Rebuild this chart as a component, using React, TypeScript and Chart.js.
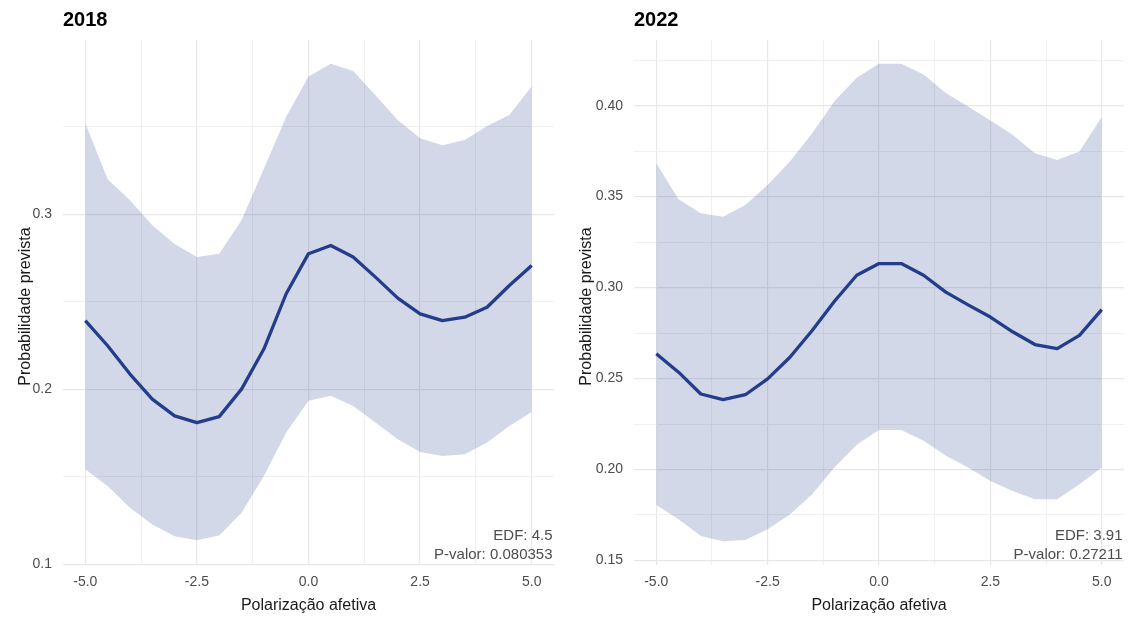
import React, { useEffect, useRef } from "react";
import { Chart, registerables } from "chart.js";

Chart.register(...registerables);

// ---- Data ----
const xValues = [-5, -4.5, -4, -3.5, -3, -2.5, -2, -1.5, -1, -0.5, 0, 0.5, 1, 1.5, 2, 2.5, 3, 3.5, 4, 4.5, 5];

const fit2018 = [0.2391, 0.2248, 0.2086, 0.1943, 0.1847, 0.1809, 0.1843, 0.2, 0.2229, 0.2545, 0.2774, 0.2821, 0.2755, 0.264, 0.252, 0.243, 0.2391, 0.2411, 0.2468, 0.2592, 0.2707];
const upper2018 = [0.352, 0.320, 0.308, 0.2936, 0.283, 0.2755, 0.2774, 0.2965, 0.326, 0.3557, 0.3786, 0.3859, 0.3818, 0.368, 0.3538, 0.3433, 0.3394, 0.3423, 0.3503, 0.3566, 0.3729];
const lower2018 = [0.1542, 0.1446, 0.1322, 0.1226, 0.1159, 0.1136, 0.1163, 0.1293, 0.1503, 0.1752, 0.1933, 0.1962, 0.1904, 0.1809, 0.1713, 0.1641, 0.1618, 0.1628, 0.1695, 0.179, 0.187];

const fit2022 = [0.2636, 0.2535, 0.2415, 0.2384, 0.2411, 0.2498, 0.2617, 0.2764, 0.2925, 0.3068, 0.3132, 0.3132, 0.3068, 0.2975, 0.2905, 0.2838, 0.2757, 0.2687, 0.2664, 0.2737, 0.2879];
const upper2022 = [0.3684, 0.3485, 0.3408, 0.3389, 0.3454, 0.3564, 0.3693, 0.3849, 0.4024, 0.4153, 0.423, 0.423, 0.4171, 0.407, 0.3996, 0.3919, 0.384, 0.3739, 0.3702, 0.3748, 0.3938];
const lower2022 = [0.1805, 0.1726, 0.1634, 0.1606, 0.1613, 0.1671, 0.1753, 0.1864, 0.2011, 0.2136, 0.2217, 0.2217, 0.2158, 0.2075, 0.2011, 0.1937, 0.1882, 0.1836, 0.1836, 0.1919, 0.2011];

const xTicks = [-5, -3.75, -2.5, -1.25, 0, 1.25, 2.5, 3.75, 5];
const xMajor = [-5, -2.5, 0, 2.5, 5];

const yTicks2018 = [0.1, 0.15, 0.2, 0.25, 0.3, 0.35];
const yMajor2018 = [0.1, 0.2, 0.3];
const yTicks2022 = [0.15, 0.175, 0.2, 0.225, 0.25, 0.275, 0.3, 0.325, 0.35, 0.375, 0.4, 0.425];
const yMajor2022 = [0.15, 0.2, 0.25, 0.3, 0.35, 0.4];

const titles = ["2018", "2022"];
const edfLabels = ["EDF: 4.5", "EDF: 3.91"];
const pLabels = ["P-valor: 0.080353", "P-valor: 0.27211"];
const xTitle = "Polarização afetiva";
const yTitle = "Probabilidade prevista";

const FONT = "'Liberation Sans', Arial, Helvetica, sans-serif";
const LINE = "rgb(35,60,140)";
const FILL = "rgba(35,60,140,0.2)";

const isIn = (v: number, arr: number[]) => arr.some((a) => Math.abs(a - v) < 1e-9);

type PanelProps = {
  left: number;
  width: number;
  title: string;
  fit: number[];
  upper: number[];
  lower: number[];
  yMin: number;
  yMax: number;
  yTicks: number[];
  yMajor: number[];
  yDecimals: number;
  edf: string;
  pval: string;
  yAxisWidth: number;
  rightPad: number;
  yTitleX: number;
};

function Panel(p: PanelProps) {
  const ref = useRef<HTMLCanvasElement | null>(null);
  useEffect(() => {
    if (!ref.current) return;
    const textPlugin = {
      id: "texts",
      afterDraw(chart: any) {
        const ctx = chart.ctx;
        const a = chart.chartArea;
        ctx.save();
        // title
        ctx.fillStyle = "#000";
        ctx.font = `bold 20px ${FONT}`;
        ctx.textAlign = "left";
        ctx.textBaseline = "alphabetic";
        ctx.fillText(p.title, a.left, 26);
        // x title
        ctx.font = `16px ${FONT}`;
        ctx.textAlign = "center";
        ctx.fillStyle = "#1a1a1a";
        ctx.fillText(xTitle, (a.left + a.right) / 2, 610);
        // y title
        ctx.save();
        ctx.translate(p.yTitleX, (a.top + a.bottom) / 2 + 4);
        ctx.rotate(-Math.PI / 2);
        ctx.fillText(yTitle, 0, 0);
        ctx.restore();
        // annotations
        ctx.font = `15px ${FONT}`;
        ctx.fillStyle = "#4D4D4D";
        ctx.textAlign = "right";
        ctx.fillText(p.edf, a.right - 1.5, 540);
        ctx.fillText(p.pval, a.right - 1.5, 559);
        ctx.restore();
      },
    };
    const chart = new Chart(ref.current, {
      type: "line",
      data: {
        datasets: [
          {
            data: xValues.map((x, i) => ({ x, y: p.fit[i] })),
            borderColor: LINE,
            borderWidth: 3.3,
            pointRadius: 0,
            fill: false,
            tension: 0,
            borderJoinStyle: "round",
          },
          {
            data: xValues.map((x, i) => ({ x, y: p.upper[i] })),
            borderWidth: 0,
            borderColor: "rgba(0,0,0,0)",
            backgroundColor: FILL,
            pointRadius: 0,
            fill: "+1",
            tension: 0,
          },
          {
            data: xValues.map((x, i) => ({ x, y: p.lower[i] })),
            borderWidth: 0,
            borderColor: "rgba(0,0,0,0)",
            pointRadius: 0,
            fill: false,
            tension: 0,
          },
        ],
      } as any,
      options: {
        animation: false,
        responsive: false,
        events: [],
        layout: { padding: { left: 0, top: 40, right: p.rightPad, bottom: 13 } },
        plugins: { legend: { display: false }, tooltip: { enabled: false }, title: { display: false } },
        scales: {
          x: {
            type: "linear",
            min: -5.5,
            max: 5.5,
            afterBuildTicks: (s: any) => {
              s.ticks = xTicks.map((v) => ({ value: v }));
            },
            afterFit: (s: any) => {
              s.height = 40;
            },
            border: { display: false },
            grid: {
              drawTicks: false,
              color: (c: any) => (isIn(c.tick?.value, xMajor) ? "#E8E8E8" : "#F0F0F0"),
              lineWidth: (c: any) => (isIn(c.tick?.value, xMajor) ? 1.2 : 1),
            },
            ticks: {
              autoSkip: false,
              maxRotation: 0,
              padding: 9,
              color: "#4D4D4D",
              font: { family: FONT, size: 14 },
              callback: (v: any) => (isIn(Number(v), xMajor) ? Number(v).toFixed(1) : ""),
            },
          },
          y: {
            type: "linear",
            min: p.yMin,
            max: p.yMax,
            afterBuildTicks: (s: any) => {
              s.ticks = p.yTicks.map((v) => ({ value: v }));
            },
            afterFit: (s: any) => {
              s.width = p.yAxisWidth;
            },
            border: { display: false },
            grid: {
              drawTicks: false,
              color: (c: any) => (isIn(c.tick?.value, p.yMajor) ? "#E8E8E8" : "#F0F0F0"),
              lineWidth: (c: any) => (isIn(c.tick?.value, p.yMajor) ? 1.2 : 1),
            },
            ticks: {
              autoSkip: false,
              padding: 11,
              color: "#4D4D4D",
              font: { family: FONT, size: 14 },
              callback: (v: any) => (isIn(Number(v), p.yMajor) ? Number(v).toFixed(p.yDecimals) : ""),
            },
          },
        },
      } as any,
      plugins: [textPlugin],
    });
    return () => chart.destroy();
  }, []);
  return (
    <canvas
      ref={ref}
      width={p.width}
      height={618}
      style={{ position: "absolute", left: p.left, top: 0, width: p.width, height: 618 }}
    />
  );
}

export default function App() {
  return (
    <div style={{ position: "absolute", left: 0, top: 0, width: 1130, height: 618, background: "#fff", overflow: "hidden" }}>
      <Panel
        left={0}
        width={565}
        title={titles[0]}
        fit={fit2018}
        upper={upper2018}
        lower={lower2018}
        yMin={0.0995}
        yMax={0.3995}
        yTicks={yTicks2018}
        yMajor={yMajor2018}
        yDecimals={1}
        edf={edfLabels[0]}
        pval={pLabels[0]}
        yAxisWidth={63}
        rightPad={11}
        yTitleX={29.5}
      />
      <Panel
        left={565}
        width={565}
        title={titles[1]}
        fit={fit2022}
        upper={upper2022}
        lower={lower2022}
        yMin={0.1475}
        yMax={0.4361}
        yTicks={yTicks2022}
        yMajor={yMajor2022}
        yDecimals={2}
        edf={edfLabels[1]}
        pval={pLabels[1]}
        yAxisWidth={69}
        rightPad={6}
        yTitleX={26}
      />
    </div>
  );
}
